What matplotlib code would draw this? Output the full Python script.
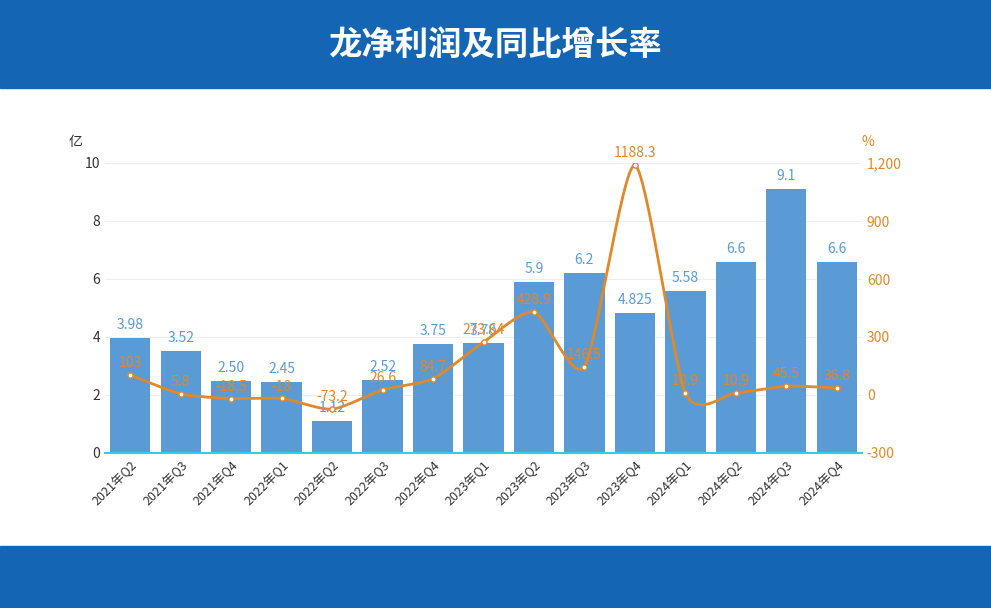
import matplotlib.pyplot as plt
import numpy as np
from matplotlib.patches import Rectangle
from matplotlib import font_manager

names = {f.name for f in font_manager.fontManager.ttflist}
cjk = [n for n in ["Noto Sans CJK SC", "Noto Sans CJK JP", "Noto Sans CJK TC", "Noto Sans CJK KR"] if n in names]
plt.rcParams["font.family"] = cjk + ["DejaVu Sans"]

quarters = ["2021年Q2", "2021年Q3", "2021年Q4", "2022年Q1", "2022年Q2", "2022年Q3", "2022年Q4",
            "2023年Q1", "2023年Q2", "2023年Q3", "2023年Q4", "2024年Q1", "2024年Q2", "2024年Q3", "2024年Q4"]
profit = [3.98, 3.52, 2.50, 2.45, 1.12, 2.52, 3.75, 3.78, 5.9, 6.2, 4.825, 5.58, 6.6, 9.1, 6.6]
profit_labels = ["3.98", "3.52", "2.50", "2.45", "1.12", "2.52", "3.75", "3.78", "5.9", "6.2",
                 "4.825", "5.58", "6.6", "9.1", "6.6"]
growth = [103, 5.8, -18.5, -18, -73.2, 26.6, 84.7, 273.64, 428.9, 146.5, 1188.3, 10.9, 10.9, 45.5, 36.8]

BAR = "#5b9bd5"
LINE = "#e0882a"


def smooth(x, y, n=30, tension=0.35):
    # cardinal spline between points, only for drawing the curve
    x = np.asarray(x, float); y = np.asarray(y, float)
    px = np.concatenate([[2 * x[0] - x[1]], x, [2 * x[-1] - x[-2]]])
    py = np.concatenate([[2 * y[0] - y[1]], y, [2 * y[-1] - y[-2]]])
    xs, ys = [], []
    t = np.linspace(0, 1, n, endpoint=False)
    h00 = 2 * t ** 3 - 3 * t ** 2 + 1
    h10 = t ** 3 - 2 * t ** 2 + t
    h01 = -2 * t ** 3 + 3 * t ** 2
    h11 = t ** 3 - t ** 2
    for i in range(1, len(px) - 2):
        for arr, out in ((px, xs), (py, ys)):
            p0, p1, p2, p3 = arr[i - 1:i + 3]
            m1 = tension * (p2 - p0)
            m2 = tension * (p3 - p1)
            out.extend(h00 * p1 + h10 * m1 + h01 * p2 + h11 * m2)
    xs.append(x[-1]); ys.append(y[-1])
    return np.array(xs), np.array(ys)


fig = plt.figure(figsize=(9.91, 6.08), dpi=100)
fig.patches.append(Rectangle((0, 1 - 88 / 608), 1, 88 / 608, transform=fig.transFigure, color="#1565b5", zorder=0))
fig.patches.append(Rectangle((0, 0), 1, 62 / 608, transform=fig.transFigure, color="#1565b5", zorder=0))
fig.text(0.5, 1 - 45 / 608, "龙净利润及同比增长率", color="white", fontsize=24, fontweight="bold",
         ha="center", va="center")

ax = fig.add_axes([105 / 991, 1 - 453 / 608, 757 / 991, 290 / 608])
x = np.arange(len(quarters))
ax.bar(x, profit, width=0.8, color=BAR, zorder=2)
for xi, v, lab in zip(x, profit, profit_labels):
    ax.text(xi, v + 0.2, lab, ha="center", va="bottom", color=BAR, fontsize=10)
ax.set_xlim(-0.5, len(quarters) - 0.5)
ax.set_ylim(0, 10)
ax.set_yticks([0, 2, 4, 6, 8, 10])
ax.set_xticks(x)
ax.set_xticklabels(quarters, rotation=45, ha="right", rotation_mode="anchor", fontsize=9, color="#333333")
ax.tick_params(axis="y", length=0, labelsize=10, colors="#333333")
ax.tick_params(axis="x", length=0)
ax.grid(axis="y", color="#eeeeee", zorder=0)
for s in ["top", "right", "left"]:
    ax.spines[s].set_visible(False)
ax.spines["bottom"].set_color("#33ccee")
ax.spines["bottom"].set_linewidth(1.5)
ax.text(-0.03, 1.06, "亿", transform=ax.transAxes, fontsize=10, color="#333333", ha="right")

ax2 = ax.twinx()
ax2.set_ylim(-300, 1200)
ax2.set_yticks([-300, 0, 300, 600, 900, 1200])
ax2.set_yticklabels(["-300", "0", "300", "600", "900", "1,200"])
ax2.tick_params(axis="y", length=0, labelsize=10, colors=LINE)
for s in ax2.spines.values():
    s.set_visible(False)
sx, sy = smooth(x, growth)
ax2.plot(sx, sy, color=LINE, lw=2, zorder=3)
ax2.scatter(x, growth, s=14, color="white", edgecolors=LINE, linewidths=1, zorder=4)
for xi, g in zip(x, growth):
    ax2.text(xi, g + 25, f"{g:g}", ha="center", va="bottom", color=LINE, fontsize=10, zorder=5)
ax2.text(1.0, 1.06, "%", transform=ax2.transAxes, fontsize=10, color=LINE, ha="left")

fig.savefig("out.png", dpi=100)
